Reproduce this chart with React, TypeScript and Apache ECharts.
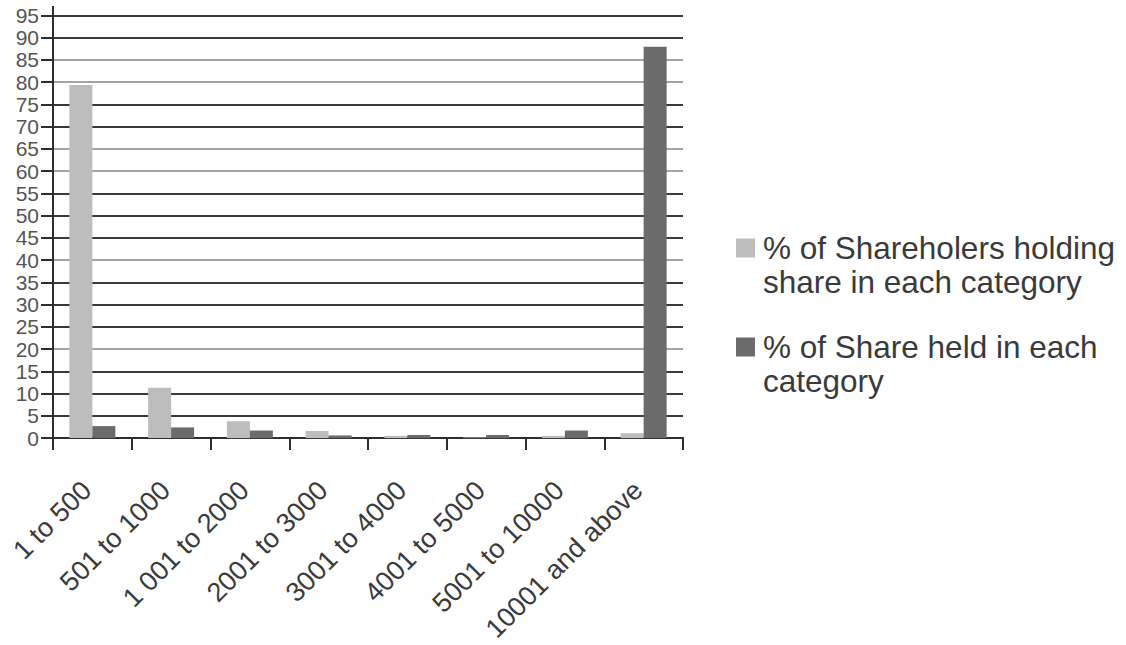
import React, { useEffect, useRef } from "react";
import * as echarts from "echarts";

const categories = [
  "1 to 500",
  "501 to 1000",
  "1 001 to 2000",
  "2001 to 3000",
  "3001 to 4000",
  "4001 to 5000",
  "5001 to 10000",
  "10001 and above",
];
const shareholdersPct = [79.4, 11.3, 3.8, 1.6, 0.5, 0.15, 0.5, 1.1];
const sharesHeldPct = [2.7, 2.4, 1.7, 0.6, 0.7, 0.7, 1.7, 88.0];
const seriesNames = [
  "% of Shareholers holding\nshare in each category",
  "% of Share held in each\ncategory",
];
const yMin = 0;
const yMax = 95;
const yInterval = 5;

const LIGHT = "#bdbdbd";
const DARK = "#6b6b6b";
const GRID_DARK = "#3a3a3a";
const GRID_LIGHT = "#a3a3a3";
const FONT = "'Liberation Sans', Arial, Helvetica, sans-serif";

// scan-like pattern of gridline tones, from 0 upward
const gridTones = [
  GRID_DARK, GRID_DARK, GRID_DARK, GRID_DARK, GRID_LIGHT,
  GRID_DARK, GRID_DARK, GRID_DARK, GRID_LIGHT, GRID_DARK,
  GRID_DARK, GRID_DARK, GRID_LIGHT, GRID_LIGHT, GRID_DARK,
  GRID_DARK, GRID_LIGHT, GRID_LIGHT, GRID_DARK, GRID_DARK,
];

// square at the top of a taller (invisible) box so it lines up with the first text line
const LEGEND_ICON = "path://M0,0H19V19H0Z M0,53H22Z";

export default function App() {
  const ref = useRef<HTMLDivElement>(null);

  useEffect(() => {
    if (!ref.current) return;
    const chart = echarts.init(ref.current, null, { renderer: "svg" });
    const gridLeft = 53;
    const gridTop = 15.5;
    chart.setOption({
      animation: false,
      backgroundColor: "#ffffff",
      textStyle: { fontFamily: FONT },
      grid: { left: gridLeft, right: 443, top: gridTop, bottom: 201, containLabel: false },
      legend: {
        orient: "vertical",
        left: 731,
        top: 226,
        itemWidth: 22,
        itemHeight: 53,
        itemGap: 31,
        icon: LEGEND_ICON,
        selectedMode: false,
        textStyle: {
          fontFamily: FONT,
          fontSize: 31.5,
          lineHeight: 34,
          color: "#3a3a3a",
        },
        data: seriesNames,
      },
      xAxis: {
        type: "category",
        data: categories,
        axisLine: { show: true, lineStyle: { color: "#2e2e2e", width: 2 } },
        axisTick: { show: true, length: 12, lineStyle: { color: "#2e2e2e", width: 2 } },
        axisLabel: {
          rotate: 45,
          interval: 0,
          margin: 42,
          fontSize: 27,
          color: "#3a3a3a",
          fontFamily: FONT,
          padding: [0, 8, 0, 0],
        },
        splitLine: { show: false },
      },
      yAxis: {
        type: "value",
        min: yMin,
        max: yMax,
        interval: yInterval,
        axisLine: { show: true, lineStyle: { color: "#2e2e2e", width: 2 } },
        axisTick: { show: true, length: 12, lineStyle: { color: "#2e2e2e", width: 2 } },
        axisLabel: {
          margin: 14,
          fontSize: 21,
          lineHeight: 21,
          color: "#555555",
          fontFamily: FONT,
        },
        splitLine: { show: true, lineStyle: { color: gridTones, width: 2 } },
      },
      series: [
        {
          name: seriesNames[0],
          type: "bar",
          data: shareholdersPct,
          barWidth: 23,
          barGap: "0%",
          itemStyle: { color: LIGHT },
        },
        {
          name: seriesNames[1],
          type: "bar",
          data: sharesHeldPct,
          barWidth: 23,
          barGap: "0%",
          itemStyle: { color: DARK },
        },
      ],
      graphic: [
        {
          type: "line",
          shape: { x1: gridLeft, y1: 6, x2: gridLeft, y2: gridTop },
          style: { stroke: "#2e2e2e", lineWidth: 2 },
        },
      ],
    });
    return () => chart.dispose();
  }, []);

  return (
    <div
      ref={ref}
      style={{ position: "fixed", left: 0, top: 0, width: 1126, height: 645, background: "#fff" }}
    />
  );
}
